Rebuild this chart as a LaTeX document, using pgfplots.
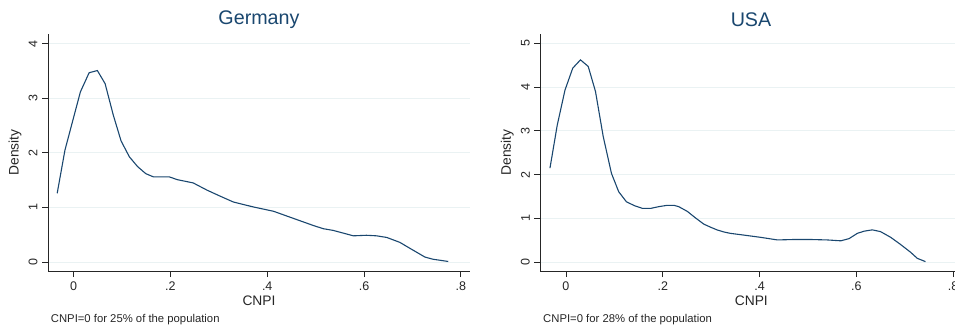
\documentclass[border=0pt]{standalone}
\usepackage{fontspec}
\setmainfont{Liberation Sans}
\usepackage{pgfplots}
\pgfplotsset{compat=1.18}
\definecolor{stnavy}{RGB}{26,71,111}
\definecolor{gridc}{RGB}{234,242,243}
\pgfplotsset{
  stata/.style={
    scale only axis, width=422pt, height=237pt,
    axis x line*=bottom, axis y line*=left,
    axis line style={-, line width=0.9pt, black!85},
    tick align=outside, major tick length=6pt,
    tick style={line width=0.9pt, black!85},
    ymajorgrids, grid style={color=gridc, line width=1pt},
    xmin=-0.053, xmax=0.819,
    xtick={0,0.2,0.4,0.6,0.8}, xticklabels={0,.2,.4,.6,.8},
    ticklabel style={font=\fontsize{12.5}{14}\selectfont, black!85},
    xticklabel style={yshift=-1pt},
    yticklabel style={rotate=90, anchor=south, yshift=1pt},
    xlabel={CNPI}, ylabel={Density},
    every axis x label/.style={at={(axis description cs:0.5,0)}, anchor=center, yshift=-30pt, font=\fontsize{13.8}{16}\selectfont, black!85},
    every axis y label/.style={at={(axis description cs:0,0.5)}, xshift=-33pt, anchor=center, rotate=90, font=\fontsize{13.8}{16}\selectfont, black!85},
  }
}
\begin{document}
\begin{tikzpicture}
\begin{axis}[stata, at={(48pt,-271pt)}, anchor=south west,
  ymin=-0.165, ymax=4.18, ytick={0,1,2,3,4}, yticklabels={0,1,2,3,4}]
\addplot[stnavy, line width=1.1pt, no markers] coordinates {
(-0.034,1.26) (-0.018,2.05) (-0.001,2.62) (0.014,3.12) (0.032,3.47)
(0.049,3.51) (0.065,3.27) (0.082,2.69) (0.098,2.22) (0.115,1.93)
(0.132,1.75) (0.149,1.62) (0.165,1.56) (0.198,1.56) (0.214,1.51)
(0.247,1.45) (0.275,1.32) (0.302,1.21) (0.330,1.10) (0.371,1.01)
(0.413,0.93) (0.454,0.80) (0.495,0.67) (0.516,0.61) (0.536,0.58)
(0.557,0.53) (0.578,0.48) (0.605,0.49) (0.626,0.48) (0.647,0.45)
(0.674,0.36) (0.695,0.25) (0.726,0.09) (0.743,0.05) (0.774,0.01)
};
\end{axis}
\begin{axis}[stata, at={(540.3pt,-271pt)}, anchor=south west,
  ymin=-0.199, ymax=5.21, ytick={0,1,2,3,4,5}, yticklabels={0,1,2,3,4,5}]
\addplot[stnavy, line width=1.1pt, no markers] coordinates {
(-0.033,2.15) (-0.018,3.13) (-0.002,3.93) (0.014,4.43) (0.030,4.62)
(0.046,4.47) (0.061,3.90) (0.077,2.87) (0.094,2.03) (0.109,1.61)
(0.125,1.38) (0.142,1.29) (0.158,1.23) (0.175,1.23) (0.192,1.27)
(0.209,1.30) (0.223,1.30) (0.233,1.27) (0.251,1.16) (0.268,1.01)
(0.285,0.87) (0.299,0.80) (0.312,0.74) (0.327,0.69) (0.340,0.66)
(0.368,0.62) (0.402,0.57) (0.437,0.51) (0.471,0.52) (0.506,0.52)
(0.540,0.51) (0.568,0.49) (0.585,0.54) (0.602,0.66) (0.616,0.71)
(0.633,0.74) (0.650,0.70) (0.671,0.57) (0.691,0.41) (0.712,0.23)
(0.726,0.09) (0.743,0.015)
};
\end{axis}
\node[stnavy, font=\fontsize{19.7}{22}\selectfont] at (259pt,-19.3pt) {Germany};
\node[stnavy, font=\fontsize{19.7}{22}\selectfont] at (751pt,-19.3pt) {USA};
\node[anchor=west, inner sep=0pt, black!85, font=\fontsize{11.3}{13}\selectfont] at (50.7pt,-319.3pt) {CNPI=0 for 25\% of the population};
\node[anchor=west, inner sep=0pt, black!85, font=\fontsize{11.3}{13}\selectfont] at (543pt,-319.3pt) {CNPI=0 for 28\% of the population};
\pgfresetboundingbox
\path[use as bounding box] (0,0) rectangle (955pt,-327pt);
\end{tikzpicture}
\end{document}
